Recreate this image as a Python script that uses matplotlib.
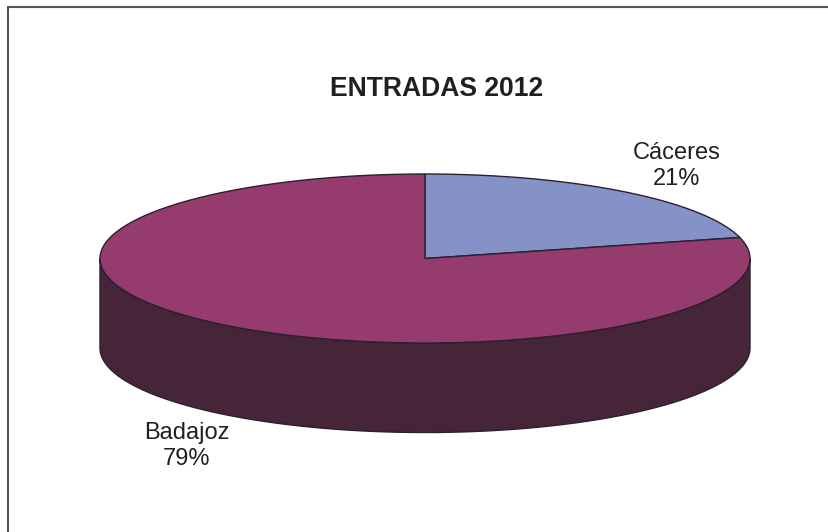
"""Flat 3D pie: ENTRADAS 2012, drawn as ellipse polygons in pixel coordinates."""
import numpy as np
import matplotlib
matplotlib.use("Agg")
import matplotlib.pyplot as plt
from matplotlib.patches import Polygon

plt.rcParams["font.family"] = ["Liberation Sans", "DejaVu Sans"]

TITLE = "ENTRADAS 2012"
provinces = ["Cáceres", "Badajoz"]
shares = [21, 79]
colors = ["#8592C8", "#963B6E"]
SIDE = "#472538"
EDGE = "#2A2030"
TXT = "#231F20"

W, H = 829, 532
CX, CY = 425.0, 258.5    # pie centre, px
RX, RY = 325.0, 84.5     # top ellipse radii
DEPTH = 89.5             # height of the rim

fig = plt.figure(figsize=(W/100, H/100), dpi=100)
ax = fig.add_axes([0, 0, 1, 1])
ax.set_xlim(0, W); ax.set_ylim(H, 0)
ax.axis("off")

def ell(t, dy=0.0):
    # angle t clockwise from 12 o'clock, y points down
    return np.column_stack([CX + RX*np.sin(t), CY + dy - RY*np.cos(t)])

# ---------- rim (only the front half shows)
t = np.linspace(np.pi/2, 3*np.pi/2, 300)
rim = np.vstack([ell(t), ell(t[::-1], DEPTH)])
ax.add_patch(Polygon(rim, closed=True, fc=SIDE, ec=EDGE, lw=1.0, joinstyle="round"))

# ---------- top slices
start = 0.0
total = sum(shares)
for share, col in zip(shares, colors):
    sweep = 2*np.pi*share/total
    t = np.linspace(start, start + sweep, 300)
    pts = np.vstack([[CX, CY], ell(t)])
    ax.add_patch(Polygon(pts, closed=True, fc=col, ec=EDGE, lw=1.0, joinstyle="miter"))
    start += sweep

# ---------- text
ax.text(437, 89, TITLE, fontsize=19.1, fontweight="bold", color=TXT,
        ha="center", va="center")
ax.text(677, 166, f"{provinces[0]}\n{shares[0]}%", fontsize=17, color=TXT,
        ha="center", va="center", linespacing=1.18)
ax.text(186.5, 446, f"{provinces[1]}\n{shares[1]}%", fontsize=17, color=TXT,
        ha="center", va="center", linespacing=1.18)

# ---------- frame, only top and left fall inside the crop
ax.plot([W, 8.5, 8.5], [6.5, 6.5, H], color="#555555", lw=1.5, solid_joinstyle="miter")

fig.savefig("out.png", dpi=100)
